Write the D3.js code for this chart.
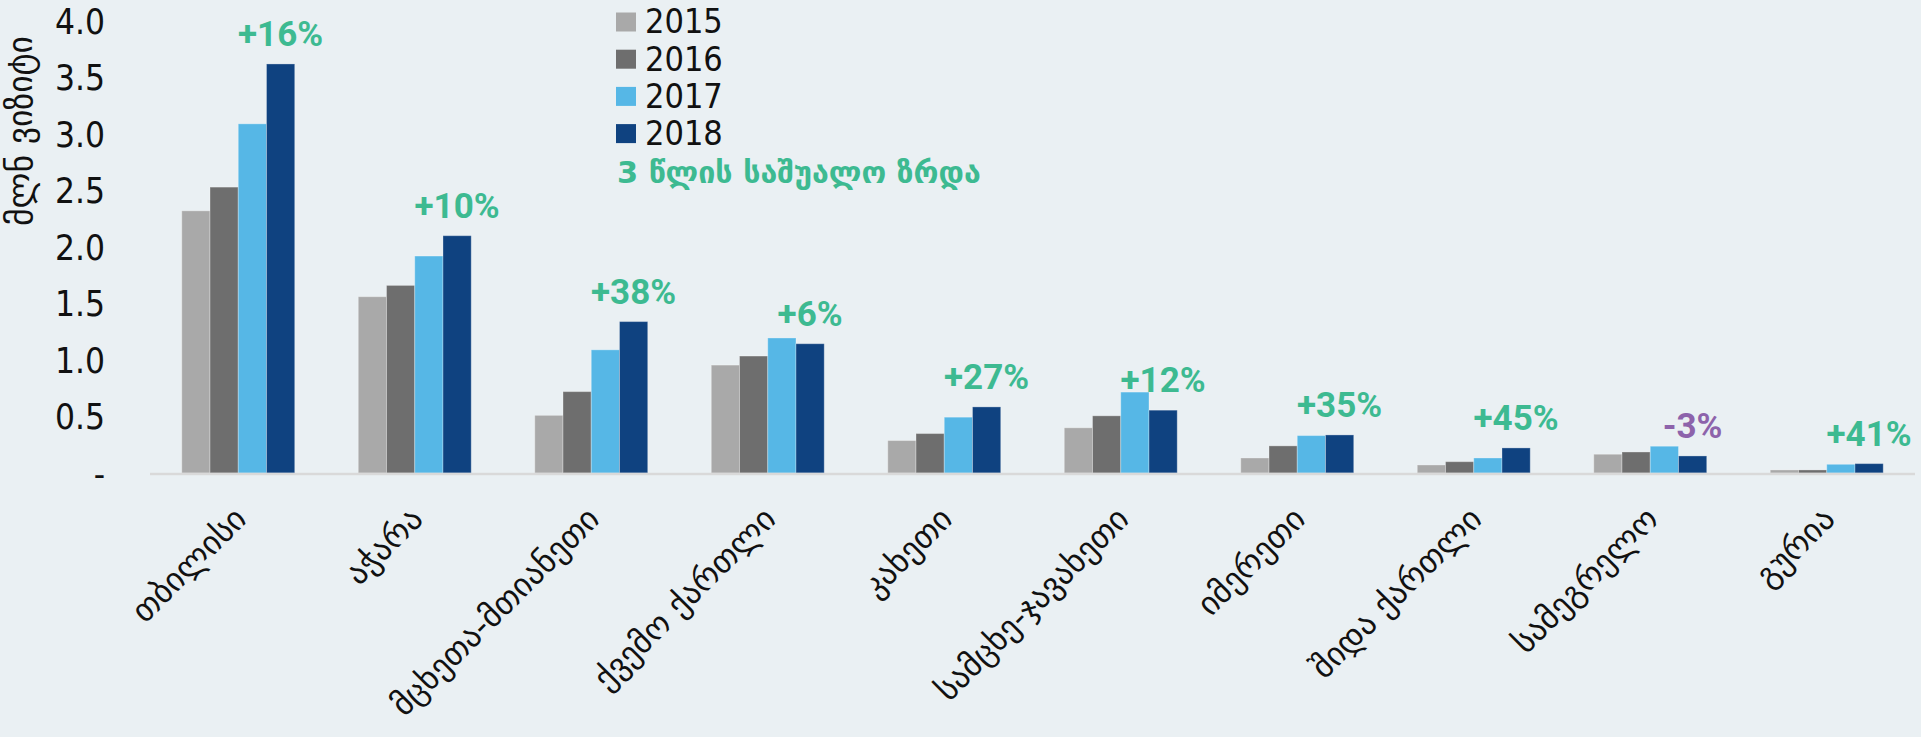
<!DOCTYPE html>
<html><head><meta charset="utf-8">
<script src="https://cdn.jsdelivr.net/npm/d3@7"></script>
<style>html,body{margin:0;padding:0;background:#eaf0f3;} svg{display:block}</style>
</head><body>
<svg id="chart" width="1921" height="737"></svg>
<script>
const categories = ["თბილისი","აჭარა","მცხეთა-მთიანეთი","ქვემო ქართლი","კახეთი","სამცხე-ჯავახეთი","იმერეთი","შიდა ქართლი","სამეგრელო","გურია"];
const years = ["2015","2016","2017","2018"];
const values2015 = [2.32,1.56,0.51,0.955,0.287,0.40,0.133,0.071,0.166,0.027];
const values2016 = [2.53,1.66,0.72,1.035,0.349,0.506,0.24,0.10,0.186,0.027];
const values2017 = [3.09,1.92,1.09,1.195,0.494,0.716,0.331,0.133,0.237,0.077];
const values2018 = [3.62,2.10,1.34,1.144,0.585,0.556,0.337,0.222,0.151,0.083];
const growthLabels = ["+16%","+10%","+38%","+6%","+27%","+12%","+35%","+45%","-3%","+41%"];
const yTicks = [0,0.5,1,1.5,2,2.5,3,3.5,4];
const yTitle = "მლნ ვიზიტი";
const legendNote = "3 წლის საშუალო ზრდა";

const seriesValues = [values2015, values2016, values2017, values2018];
const colors = ["#a9a9a9","#6e6e6e","#56b7e6","#0f4280"];
const green = "#3dba91", purple = "#8d63ab";
const numFont = "'Liberation Sans Narrow','DejaVu Sans Condensed','Roboto',sans-serif";
const geoFont = "'DejaVu Sans',sans-serif";

// scale a text's font size so its advance length matches a target
function fitSize(sel, target, base) {
  sel.attr("font-size", base);
  const len = sel.node().getComputedTextLength();
  return base * target / len;
}

const svg = d3.select("#chart");
svg.append("rect").attr("width",1921).attr("height",737).attr("fill","#eaf0f3");

const x = d3.scaleBand().domain(categories).range([150,1915]).paddingInner(0.36).paddingOuter(0.18);
const xs = d3.scaleBand().domain(years).range([0, x.bandwidth()]);
const y = d3.scaleLinear().domain([0,4]).range([473,21]);

// bars
const groups = svg.append("g").selectAll("g").data(categories).join("g")
  .attr("transform", d => `translate(${x(d)},0)`);
groups.selectAll("rect").data((d,i) => years.map((yr,k) => ({yr, v: seriesValues[k][i], k})))
  .join("rect")
  .attr("x", d => xs(d.yr))
  .attr("width", xs.bandwidth())
  .attr("y", d => y(d.v))
  .attr("height", d => y(0) - y(d.v))
  .attr("fill", d => colors[d.k])
  .attr("stroke", "rgba(255,255,255,0.3)")
  .attr("stroke-width", 1);

// baseline
svg.append("line").attr("x1",150).attr("x2",1915).attr("y1",y(0)+1).attr("y2",y(0)+1)
  .attr("stroke","#d9d9d9").attr("stroke-width",2.5);

// y axis labels
const yAxis = d3.axisLeft(y).tickValues(yTicks).tickSize(0).tickPadding(0)
  .tickFormat(v => v === 0 ? "-" : d3.format(".1f")(v));
const ya = svg.append("g").attr("transform","translate(105,0)").call(yAxis);
ya.select(".domain").remove();
ya.selectAll("text").attr("font-family", numFont).attr("font-size", 35).attr("fill","#111")
  .attr("dy","0.35em");

// y title
const yt = svg.append("text").attr("transform","translate(32,131) rotate(-90)")
  .attr("text-anchor","middle").attr("font-family",geoFont)
  .attr("fill","#111").text(yTitle);
yt.attr("font-size", fitSize(yt, 190, 27));

// category labels
const xAxis = d3.axisBottom(x).tickSize(0).tickPadding(0);
const xa = svg.append("g").call(xAxis);
xa.select(".domain").remove();
xa.selectAll(".tick").attr("transform", d => `translate(${x(d)+x.bandwidth()/2+10},521)`);
const xt = xa.selectAll("text").attr("y",0).attr("dy",0).attr("transform","rotate(-45)")
  .attr("text-anchor","end").attr("font-family",geoFont).attr("fill","#111");
const refLabel = xt.filter(d => d === "სამეგრელო");
const catSize = fitSize(refLabel, 190, 26);
xt.attr("font-size", catSize);

// growth labels
svg.append("g").selectAll("text").data(categories).join("text")
  .attr("x", d => x(d) + xs("2018") + xs.bandwidth()/2)
  .attr("y", (d,i) => y(values2018[i]) - 18)
  .attr("text-anchor","middle")
  .attr("font-family","'Roboto',sans-serif").attr("font-weight",700).attr("font-size",35)
  .attr("fill", (d,i) => growthLabels[i].startsWith("-") ? purple : green)
  .text((d,i) => growthLabels[i]);

// legend
const leg = svg.append("g").attr("transform","translate(616,0)");
const legItems = leg.selectAll("g").data(years).join("g")
  .attr("transform",(d,i) => `translate(0,${12.5 + i*37.2})`);
legItems.append("rect").attr("width",20).attr("height",19).attr("fill",(d,i)=>colors[i]);
legItems.append("text").attr("x",29).attr("y",9).attr("dy","0.35em")
  .attr("font-family",numFont).attr("font-size",34).attr("fill","#111").text(d=>d);
const ln = leg.append("text").attr("x",1).attr("y",183)
  .attr("font-family",geoFont).attr("font-weight",700)
  .attr("fill",green).text(legendNote);
ln.attr("font-size", fitSize(ln, 364, 28));
</script>
</body></html>
